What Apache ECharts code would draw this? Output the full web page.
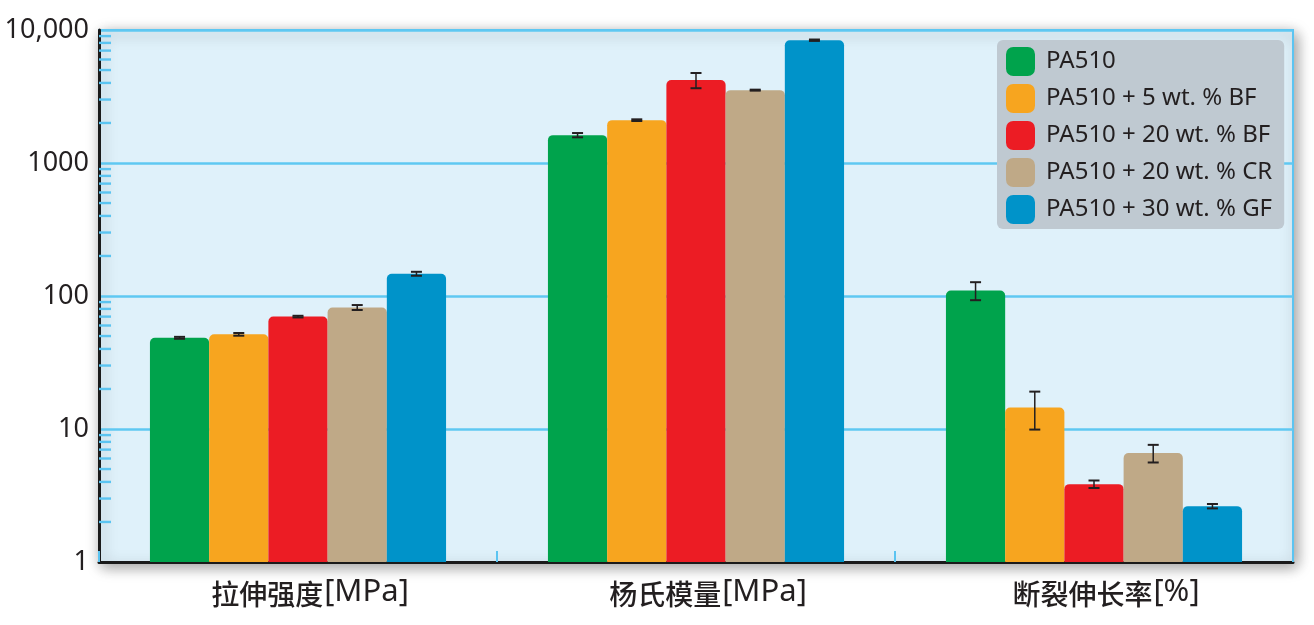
<!DOCTYPE html>
<html>
<head>
<meta charset="utf-8">
<script src="https://cdn.jsdelivr.net/npm/echarts@6/dist/echarts.min.js"></script>
<style>html,body{margin:0;padding:0;background:#fff}#c{width:1314px;height:625px}</style>
</head>
<body>
<div id="c"></div>
<script>
const categories = ['拉伸强度', '杨氏模量', '断裂伸长率'];
const units = ['[MPa]', '[MPa]', '[%]'];
const seriesNames = ['PA510', 'PA510 + 5 wt. % BF', 'PA510 + 20 wt. % BF', 'PA510 + 20 wt. % CR', 'PA510 + 30 wt. % GF'];
const colors = ['#00a34c', '#f7a51f', '#ec1c24', '#bfa987', '#0093c9'];
const valPA510 = [48.5, 1620, 110];
const valBF5 = [51.5, 2100, 14.5];
const valBF20 = [70, 4200, 3.85];
const valCR20 = [82, 3530, 6.6];
const valGF30 = [147, 8380, 2.63];
const errPA510 = [0.8, 60, 17];
const errBF5 = [1.2, 30, 4.6];
const errBF20 = [1, 550, 0.25];
const errCR20 = [3.5, 30, 1.0];
const errGF30 = [5, 100, 0.1];
const yTicks = [1, 10, 100, 1000, 10000];
const yTickLabels = ['1', '10', '100', '1000', '10,000'];

const values = [valPA510, valBF5, valBF20, valCR20, valGF30];
const errors = [errPA510, errBF5, errBF20, errCR20, errGF30];
const gapRatio = 0.256;

const minorTicks = [];
for (let k = 0; k < yTicks.length - 1; k++) {
  for (let m = 2; m <= 9; m++) minorTicks.push([0, m * yTicks[k]]);
}

const series = [];
values.forEach((vals, i) => {
  series.push({
    name: seriesNames[i], type: 'bar', data: vals,
    itemStyle: { color: colors[i], borderRadius: [5, 5, 0, 0] },
    barGap: '0%', barCategoryGap: (gapRatio * 100) + '%', z: 2
  });
});
values.forEach((vals, i) => {
  series.push({
    type: 'custom', silent: true, z: 5,
    data: vals.map((v, j) => [j, v - errors[i][j], v + errors[i][j]]),
    encode: { x: 0, y: [1, 2] },
    renderItem: function (params, api) {
      const band = params.coordSys.width / categories.length;
      const bw = band * (1 - gapRatio) / 5;
      const hi = api.coord([api.value(0), api.value(2)]);
      const lo = api.coord([api.value(0), api.value(1)]);
      const x = hi[0] + (i - 2) * bw;
      const cap = 5.5;
      return { type: 'group', children: [
        { type: 'line', shape: { x1: x, y1: hi[1], x2: x, y2: lo[1] }, style: { stroke: '#231f20', lineWidth: 1.5 } },
        { type: 'line', shape: { x1: x - cap, y1: hi[1], x2: x + cap, y2: hi[1] }, style: { stroke: '#231f20', lineWidth: 2 } },
        { type: 'line', shape: { x1: x - cap, y1: lo[1], x2: x + cap, y2: lo[1] }, style: { stroke: '#231f20', lineWidth: 2 } }
      ] };
    }
  });
});
series.push({
  type: 'custom', silent: true, z: 6, clip: false,
  data: minorTicks,
  encode: { x: 0, y: 1 },
  renderItem: function (params, api) {
    const y = api.coord([0, api.value(1)])[1];
    const x0 = params.coordSys.x;
    return { type: 'rect', shape: { x: x0, y: y - 1.2, width: 12, height: 2.4 }, style: { fill: '#5bc4f1' } };
  }
});

const chart = echarts.init(document.getElementById('c'));
chart.setOption({
  animation: false,
  grid: {
    left: 99, right: 21, top: 30, bottom: 63, show: true,
    backgroundColor: '#dff1fa', borderColor: '#5bc4f1', borderWidth: 2,
    shadowBlur: 14, shadowColor: 'rgba(0,0,0,0.4)', shadowOffsetX: 3, shadowOffsetY: 4
  },
  legend: {
    data: seriesNames, orient: 'vertical', left: 997, top: 40,
    backgroundColor: '#bfc9d1', borderRadius: 6, padding: [7, 12, 5, 9],
    itemWidth: 29, itemHeight: 29, itemGap: 8, icon: 'roundRect',
    textStyle: { fontFamily: 'Noto Sans', fontSize: 24, color: '#231f20', padding: [0, 0, 0, 6] }
  },
  xAxis: {
    type: 'category', data: categories,
    axisLine: { lineStyle: { color: '#1a1a1a', width: 3 } },
    axisTick: { show: true, inside: true, length: 11, lineStyle: { color: '#5bc4f1', width: 2 } },
    axisLabel: {
      margin: 15, interval: 0, padding: [0, 0, 0, 24],
      formatter: function (v, idx) { return '{a|' + v + '}{b|' + units[idx] + '}'; },
      rich: {
        a: { fontFamily: 'Noto Sans CJK SC', fontSize: 28, fontWeight: 500, color: '#231f20' },
        b: { fontFamily: 'Noto Sans', fontSize: 31, color: '#231f20', padding: [0, 0, 3, 1] }
      }
    }
  },
  yAxis: {
    type: 'log', logBase: 10, min: 1, max: 10000,
    axisLine: { show: true, lineStyle: { color: '#1a1a1a', width: 3 } },
    axisTick: { show: false },
    splitLine: { show: true, lineStyle: { color: '#5fc8f2', width: 2.5 } },
    axisLabel: {
      margin: 10, fontFamily: 'Noto Sans', fontSize: 27, color: '#231f20',
      formatter: function (v) { const k = yTicks.indexOf(v); return k >= 0 ? yTickLabels[k] : ''; }
    }
  },
  series: series
});
</script>
</body>
</html>
